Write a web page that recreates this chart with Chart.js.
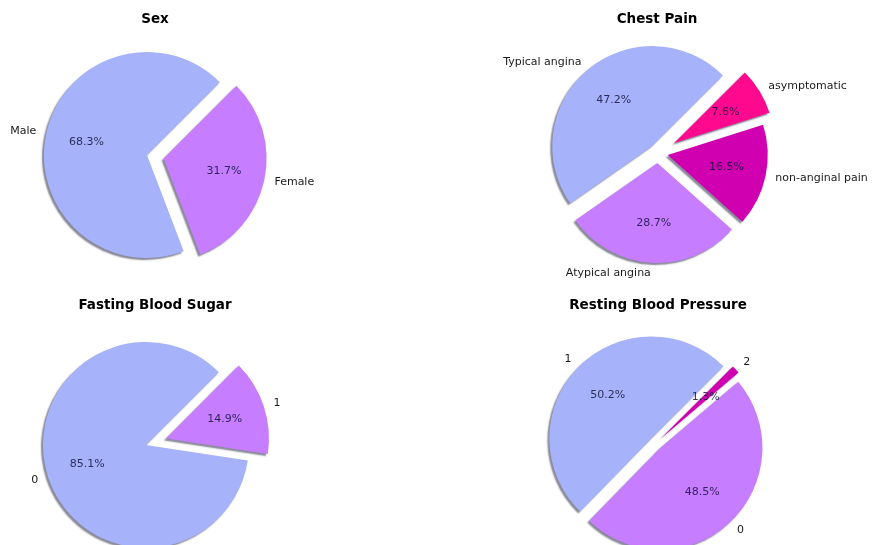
<!DOCTYPE html>
<html>
<head>
<meta charset="utf-8">
<title>Heart data pies</title>
<script src="https://cdn.jsdelivr.net/npm/chart.js@4.4.1/dist/chart.umd.min.js"></script>
<style>
  html, body { margin: 0; padding: 0; background: #fff; }
  #wrap { position: relative; width: 877px; height: 545px; overflow: hidden; }
  #wrap canvas { position: absolute; left: 0; top: 0; }
</style>
</head>
<body>
<div id="wrap">
  <canvas id="sexChart" width="877" height="545"></canvas>
  <canvas id="chestChart" width="877" height="545"></canvas>
  <canvas id="fbsChart" width="877" height="545"></canvas>
  <canvas id="bpChart" width="877" height="545"></canvas>
</div>
<script>
// data, in the order the wedges are laid out (counter-clockwise from 45deg)
const sexLabels = ['Male', 'Female'];
const sexValues = [68.3, 31.7];

const chestLabels = ['Typical angina', 'Atypical angina', 'non-anginal pain', 'asymptomatic'];
const chestValues = [47.2, 28.7, 16.5, 7.6];

const fbsLabels = ['0', '1'];
const fbsValues = [85.1, 14.9];

const bpLabels = ['1', '0', '2'];
const bpValues = [50.2, 48.5, 1.3];

const BLUE = '#a6b3fa';
const VIOLET = '#c77dff';
const MAGENTA = '#d000b0';
const PINK = '#ff0a8e';

const W = 877, H = 545;
const FONT = '"DejaVu Sans", "Liberation Sans", sans-serif';

// layout of each subplot (pixels)
const pies = [
  { id: 'sexChart', title: 'Sex', labels: sexLabels, values: sexValues,
    colors: [BLUE, VIOLET], explode: [0, 17],
    cx: 147, cy: 155, r: 103, titleX: 155, titleY: 19 },
  { id: 'chestChart', title: 'Chest Pain', labels: chestLabels, values: chestValues,
    colors: [BLUE, VIOLET, MAGENTA, PINK], explode: [9, 10, 10, 19],
    cx: 658, cy: 153, r: 100, titleX: 657, titleY: 19 },
  { id: 'fbsChart', title: 'Fasting Blood Sugar', labels: fbsLabels, values: fbsValues,
    colors: [BLUE, VIOLET], explode: [0, 21],
    cx: 146, cy: 445, r: 103, titleX: 155, titleY: 305 },
  { id: 'bpChart', title: 'Resting Blood Pressure', labels: bpLabels, values: bpValues,
    colors: [BLUE, VIOLET, MAGENTA], explode: [6.5, 6.5, 6.5],
    cx: 656, cy: 443, r: 102, titleX: 658, titleY: 305 }
];

// matplotlib goes counter-clockwise, Chart.js clockwise -> feed reversed
function rev(a) { return a.slice().reverse(); }

function piePlugin(p) {
  const explode = rev(p.explode);
  return {
    id: 'pieExtras',
    afterDatasetUpdate(chart, args) {
      // push exploded wedges out along their middle angle
      args.meta.data.forEach((arc, i) => {
        const a = (arc.startAngle + arc.endAngle) / 2;
        arc.x += Math.cos(a) * explode[i];
        arc.y += Math.sin(a) * explode[i];
      });
    },
    beforeDatasetsDraw(chart) {
      const ctx = chart.ctx;
      ctx.save();
      ctx.shadowColor = 'rgba(40, 40, 70, 0.55)';
      ctx.shadowOffsetX = -2;
      ctx.shadowOffsetY = 2;
      ctx.shadowBlur = 1.5;
    },
    afterDatasetsDraw(chart) {
      chart.ctx.restore();
    },
    afterDraw(chart) {
      const ctx = chart.ctx;
      const meta = chart.getDatasetMeta(0);
      const labels = chart.data.labels;
      const values = chart.data.datasets[0].data;
      ctx.save();
      ctx.textBaseline = 'middle';
      meta.data.forEach((arc, i) => {
        const a = (arc.startAngle + arc.endAngle) / 2;
        const r = arc.outerRadius;
        const c = Math.cos(a), s = Math.sin(a);
        // outer label
        ctx.font = '11px ' + FONT;
        ctx.fillStyle = '#1a1a1a';
        ctx.textAlign = (arc.x + 1.1 * r * c) < p.cx ? 'right' : 'left';
        ctx.fillText(labels[i], arc.x + 1.1 * r * c, arc.y + 1.1 * r * s);
        // percentage
        ctx.textAlign = 'center';
        ctx.fillStyle = 'rgba(20, 20, 60, 0.85)';
        ctx.fillText(values[i].toFixed(1) + '%', arc.x + 0.6 * r * c, arc.y + 0.6 * r * s);
      });
      // subplot title
      ctx.font = 'bold 13.5px ' + FONT;
      ctx.fillStyle = '#000';
      ctx.textAlign = 'center';
      ctx.fillText(p.title, p.titleX, p.titleY);
      ctx.restore();
    }
  };
}

pies.forEach(p => {
  // padding so that the chart area is centred on the pie centre
  const hw = Math.min(p.cx, W - p.cx);
  const hh = Math.min(p.cy, H - p.cy);
  new Chart(document.getElementById(p.id), {
    type: 'pie',
    data: {
      labels: rev(p.labels),
      datasets: [{
        data: rev(p.values),
        backgroundColor: rev(p.colors),
        borderWidth: 0,
        clip: false
      }]
    },
    options: {
      responsive: false,
      animation: false,
      events: [],
      rotation: 45,
      radius: p.r,
      layout: {
        padding: {
          left: p.cx - hw, right: W - p.cx - hw,
          top: p.cy - hh, bottom: H - p.cy - hh
        }
      },
      plugins: {
        legend: { display: false },
        title: { display: false },
        tooltip: { enabled: false }
      }
    },
    plugins: [piePlugin(p)]
  });
});
</script>
</body>
</html>
